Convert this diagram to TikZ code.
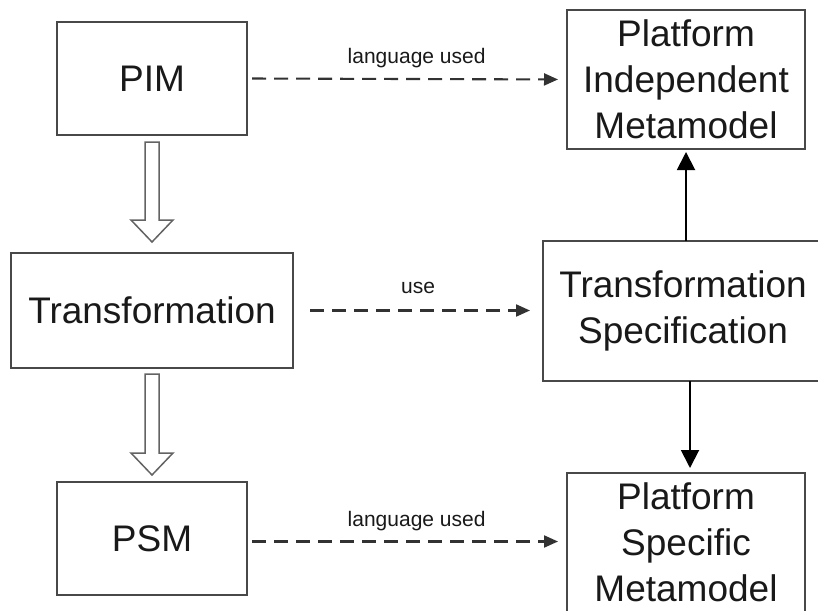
\documentclass[tikz,border=0pt]{standalone}
\usepackage{fontspec}
\setmainfont{Liberation Sans}
\usetikzlibrary{arrows.meta,calc}
\definecolor{boxline}{RGB}{72,72,72}
\definecolor{dashline}{RGB}{50,50,50}
\definecolor{inktext}{RGB}{25,25,25}
\begin{document}
\begin{tikzpicture}[x=1pt,y=-1pt,
  box/.style={draw=boxline,line width=1.9pt,fill=white,inner sep=0pt,outer sep=0pt,
    align=center,text=inktext,font=\fontsize{37}{46}\selectfont},
  uses/.style={draw=dashline,line width=2.1pt,dash pattern=on 14pt off 8pt,
    -{Triangle[length=14pt,width=12pt]}},
  lbl/.style={text=inktext,font=\fontsize{21}{24}\selectfont,inner sep=0pt,above=10pt},
  depends/.style={draw=black,line width=1.9pt,-{Triangle[length=18pt,width=18pt]}},
  blockarrow/.style={draw=boxline!85,line width=1.5pt,fill=white,line join=miter}]

\useasboundingbox (0,0) rectangle (818,610);
\clip (0,0) rectangle (818,610);

% models (left column)
\node[box,minimum width=190pt,minimum height=113pt] (pim)   at (152,78.5)  {PIM};
\node[box,minimum width=282pt,minimum height=115pt] (trans) at (152,310.5) {Transformation};
\node[box,minimum width=190pt,minimum height=113pt] (psm)   at (152,538.5) {PSM};

% metamodels and specification (right column)
\node[box,minimum width=238pt,minimum height=139pt] (pimm) at (686,79.5)
  {Platform\\Independent\\Metamodel};
\node[box,minimum width=280pt,minimum height=140pt] (spec) at (683,311)
  {Transformation\\Specification};
\node[box,minimum width=238pt,minimum height=139pt] (psmm) at (686,542.5)
  {Platform\\Specific\\Metamodel};

% helper points for the connectors
\coordinate (psmout) at ($(psm.east)+(0,3)$);
\coordinate (specdown) at ($(spec.south)+(7,0)$);

% "language used" / "use" relations
\draw[uses,shorten <=5pt,shorten >=9pt] (pim.east) -- (pimm.west)
  node[lbl,pos=0.53] {language used};
\draw[uses,shorten <=17pt,shorten >=13pt] (trans.east) -- (trans.east -| spec.west)
  node[lbl,midway,above=6pt] {use};
\draw[uses,shorten <=5pt,shorten >=9pt] (psmout) -- (psmout -| psmm.west)
  node[lbl,pos=0.53] {language used};

% specification refers to both metamodels
\draw[depends,shorten >=3pt] (spec.north -| pimm.south) -- (pimm.south);
\draw[depends,shorten >=5pt] (specdown) -- (specdown |- psmm.north);

% hollow transformation arrows
\draw[blockarrow]
  ($(pim.south)+(-7,7)$) -- ($(pim.south)+(7,7)$) --
  ($(trans.north)+(7,-33)$) -- ($(trans.north)+(21,-33)$) --
  ($(trans.north)+(0,-11)$) --
  ($(trans.north)+(-21,-33)$) -- ($(trans.north)+(-7,-33)$) -- cycle;
\draw[blockarrow]
  ($(trans.south)+(-7,6)$) -- ($(trans.south)+(7,6)$) --
  ($(psm.north)+(7,-29)$) -- ($(psm.north)+(21,-29)$) --
  ($(psm.north)+(0,-7)$) --
  ($(psm.north)+(-21,-29)$) -- ($(psm.north)+(-7,-29)$) -- cycle;
\end{tikzpicture}
\end{document}
